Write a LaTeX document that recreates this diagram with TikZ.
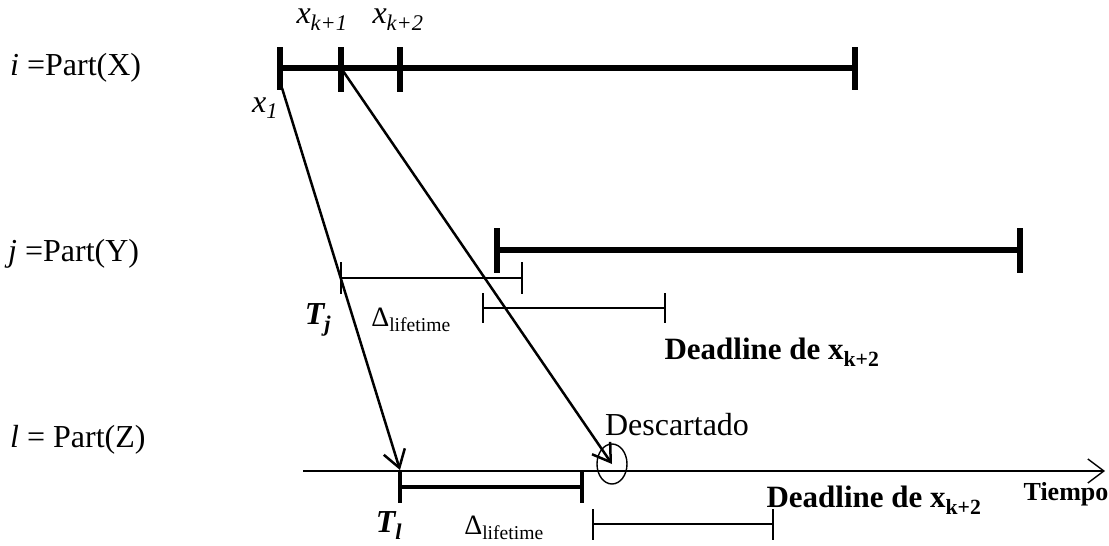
\documentclass[tikz,border=0pt]{standalone}
\usepackage{fontspec}
\setmainfont{Liberation Serif}
\usetikzlibrary{arrows.meta,positioning,shapes.geometric}

\begin{document}
\begin{tikzpicture}[
    x=1pt, y=-1pt,
    lbl/.style={font=\fontsize{32}{38}\selectfont, inner sep=0pt},
    lblsmall/.style={font=\fontsize{28}{32}\selectfont, inner sep=0pt},
    deadline/.style={font=\fontsize{31}{36}\selectfont\bfseries, inner sep=0pt},
    heavy/.style={line width=5.5pt},
    slim/.style={line width=1.4pt},
    mid/.style={line width=3.2pt},
    arrow/.style={-{Straight Barb[length=17pt,width=22pt,line width=2.5pt]}, line width=2.5pt}
]
\useasboundingbox (0,0) rectangle (1109,546);

% Row labels
\node[lbl, anchor=west] (rowi) at (10,68) {\textit{i} =Part(X)};
\node[lbl, anchor=west] (rowj) at (8,254) {\textit{j} =Part(Y)};
\node[lbl, anchor=west] (rowl) at (10,440) {\textit{l} = Part(Z)};

% Partition X
\coordinate (x1) at (280,68);
\coordinate (xk1) at (341,68);
\coordinate (xk2) at (400,68);
\coordinate (xend) at (855,68);
\draw[heavy] (x1) -- (xend);
\draw[heavy] (280,47) -- (280,90);
\draw[heavy] (341,47) -- (341,92);
\draw[heavy] (400,47) -- (400,92);
\draw[heavy] (855,47) -- (855,90);
\node[lbl] (lxk1) at (322,20) {\textit{x\textsubscript{k+1}}};
\node[lbl] (lxk2) at (398,20) {\textit{x\textsubscript{k+2}}};
\node[lbl] (lx1) at (265,108) {\textit{x\textsubscript{1}}};

% Partition Y
\draw[heavy] (497,250) -- (1020,250);
\draw[heavy] (497,228) -- (497,273);
\draw[heavy] (1020,228) -- (1020,273);

% Lifetime and deadline intervals on Y
\draw[slim] (341,278) -- (522,278);
\draw[slim] (341,262) -- (341,294);
\draw[slim] (522,262) -- (522,294);
\draw[slim] (483,308) -- (665,308);
\draw[slim] (483,293) -- (483,323);
\draw[slim] (665,293) -- (665,323);
\node[lblsmall, font=\fontsize{32}{36}\selectfont] (Tj) at (318,320) {\textbf{\textit{T\textsubscript{j}}}};
\node[lblsmall] (dj) at (411,320) {Δ\textsubscript{lifetime}};
\node[deadline] (dlj) at (772,352) {Deadline de x\textsubscript{k+2}};

% Time axis (Z)
\coordinate (tstart) at (303,471);
\coordinate (tend) at (1105,471);
\draw[slim, -{Straight Barb[length=16pt,width=24pt,line width=1.4pt]}] (tstart) -- (tend);
\node[font=\fontsize{26}{30}\selectfont\bfseries, inner sep=0pt] (tiempo) at (1066,494) {Tiempo};

\coordinate (Tl) at (400,470);
\draw[mid] (400,487) -- (582,487);
\draw[mid] (400,470) -- (400,503);
\draw[mid] (582,470) -- (582,503);
\node[lblsmall, font=\fontsize{32}{36}\selectfont] (lTl) at (389,526) {\textbf{\textit{T\textsubscript{l}}}};
\node[lblsmall] (dl) at (504,528) {Δ\textsubscript{lifetime}};

\draw[slim] (593,524) -- (773,524);
\draw[slim] (593,509) -- (593,540);
\draw[slim] (773,509) -- (773,540);
\node[deadline] (dll) at (874,500) {Deadline de x\textsubscript{k+2}};

% Discarded message
\node[draw, ellipse, slim, minimum width=30pt, minimum height=40pt, inner sep=0pt] (disc) at (612,464) {};
\node[lbl] (ldisc) at (677,425) {Descartado};

% Messages
\draw[arrow] (282,88) -- (Tl);
\draw[arrow] (xk1) -- (disc.center);

\end{tikzpicture}
\end{document}
